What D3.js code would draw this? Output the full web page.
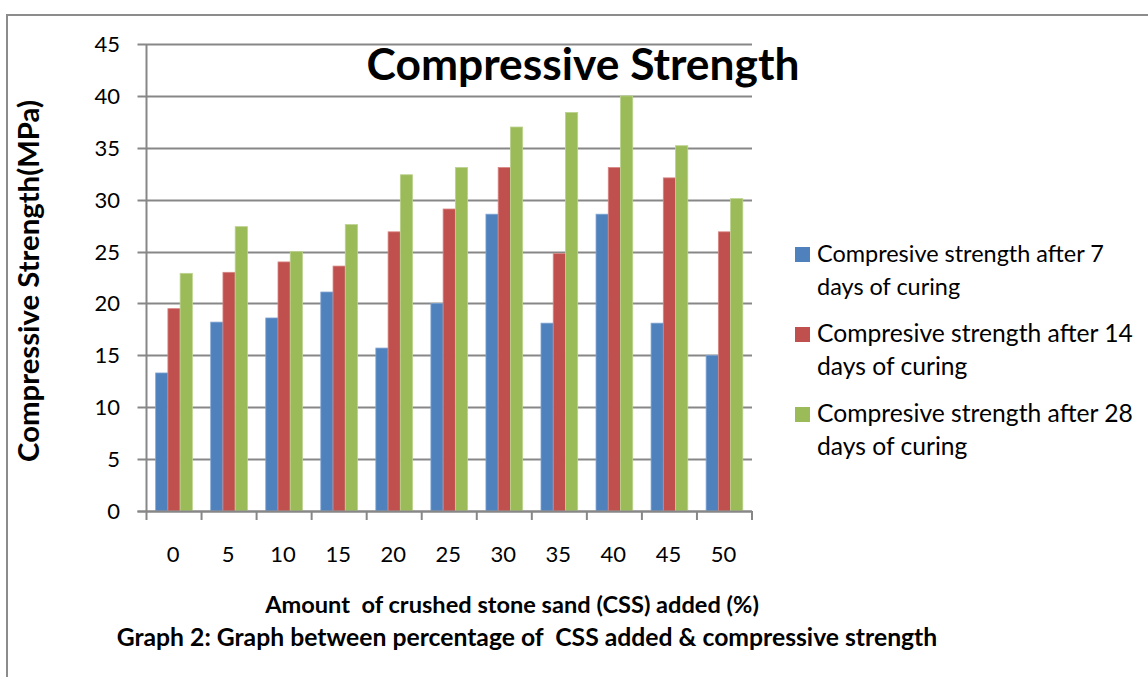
<!DOCTYPE html>
<html><head><meta charset="utf-8">
<script src="https://cdn.jsdelivr.net/npm/d3@7"></script>
<style>body{margin:0;background:#fff}svg{display:block}text{font-family:Lato,"Open Sans",sans-serif}</style>
</head><body>
<script>
const categories = ["0","5","10","15","20","25","30","35","40","45","50"];
const seriesNames = ["Compresive strength after 7 days of curing","Compresive strength after 14 days of curing","Compresive strength after 28 days of curing"];
const legendLines = [["Compresive strength after 7","days of curing"],["Compresive strength after 14","days of curing"],["Compresive strength after 28","days of curing"]];
const day7  = [13.3,18.2,18.6,21.1,15.7,20.0,28.6,18.1,28.6,18.1,15.0];
const day14 = [19.5,23.0,24.0,23.6,26.9,29.1,33.1,24.8,33.1,32.1,26.9];
const day28 = [22.9,27.4,25.0,27.6,32.4,33.1,37.0,38.4,40.0,35.2,30.1];
const yTicks = [0,5,10,15,20,25,30,35,40,45];
const colors = ["#4F81BD","#C0504D","#9BBB59"];
const strokes = ["#7fa3d1","#d78583","#bcd38e"];

const W=1148,H=677;
const svg=d3.select("body").append("svg").attr("width",W).attr("height",H);
svg.append("path").attr("d","M7,677 V15 H1148").attr("fill","none").attr("stroke","#8c8c8c").attr("stroke-width",2);

const L=146.5,R=752,T=44,B=511;
const x=d3.scaleBand().domain(categories).range([L,R]).paddingInner(0).paddingOuter(0);
const y=d3.scaleLinear().domain([0,45]).range([B,T]);
const x1=d3.scaleBand().domain([0,1,2]).range([0,x.bandwidth()]).paddingInner(0).paddingOuter(0.75);

function fit(sel,w){const n=sel.node();const cur=n.getComputedTextLength();const fs=parseFloat(sel.attr("font-size"));const f=fs*w/cur;sel.attr("font-size",f);return f;}

const gy=svg.append("g");
gy.selectAll("line").data(yTicks).join("line")
  .attr("x1",L-9).attr("x2",R).attr("y1",d=>Math.round(y(d))+0.5).attr("y2",d=>Math.round(y(d))+0.5)
  .attr("stroke","#878787").attr("stroke-width",2);
gy.selectAll("text").data(yTicks).join("text")
  .attr("x",120).attr("y",d=>y(d)+8).attr("text-anchor","end").attr("font-size",22).attr("fill","#000").text(d=>d);

const data=[day7,day14,day28];
const groups=svg.append("g").selectAll("g").data(categories).join("g").attr("transform",d=>`translate(${x(d)},0)`);
groups.selectAll("rect").data((c,i)=>data.map((s,k)=>({k,v:s[i]}))).join("rect")
  .attr("x",d=>x1(d.k)).attr("width",x1.bandwidth())
  .attr("y",d=>y(d.v)).attr("height",d=>B-y(d.v))
  .attr("fill",d=>colors[d.k]).attr("stroke",d=>strokes[d.k]).attr("stroke-width",0.8);

svg.append("line").attr("x1",L).attr("x2",L).attr("y1",T).attr("y2",B+1).attr("stroke","#878787").attr("stroke-width",2);
svg.append("line").attr("x1",L-9).attr("x2",R).attr("y1",B+0.5).attr("y2",B+0.5).attr("stroke","#878787").attr("stroke-width",2);
const xt=categories.map(c=>x(c)).concat([R]);
svg.selectAll(".xt").data(xt).join("line").attr("class","xt")
  .attr("x1",d=>d).attr("x2",d=>d).attr("y1",B).attr("y2",B+9).attr("stroke","#878787").attr("stroke-width",2);
svg.selectAll(".xl").data(categories).join("text").attr("class","xl")
  .attr("x",d=>x(d)+x.bandwidth()/2-1).attr("y",562).attr("text-anchor","middle").attr("font-size",22).attr("fill","#000").text(d=>d);

const t=svg.append("text").attr("x",583).attr("y",80).attr("text-anchor","middle").attr("font-size",40).attr("font-weight","bold").attr("fill","#000").text("Compressive Strength");
fit(t,433);
const yt=svg.append("text").attr("transform","translate(39,281) rotate(-90)").attr("text-anchor","middle").attr("font-size",19).attr("font-weight","bold").attr("fill","#000").text("Compressive Strength(MPa)");
fit(yt,362);
const xtt=svg.append("text").attr("x",512).attr("y",613).attr("text-anchor","middle").attr("font-size",19).attr("font-weight","bold").attr("fill","#000").style("white-space","pre").text("Amount  of crushed stone sand (CSS) added (%)");
fit(xtt,494);
const cap=svg.append("text").attr("x",527).attr("y",646).attr("text-anchor","middle").attr("font-size",19).attr("font-weight","bold").attr("fill","#000").style("white-space","pre").text("Graph 2: Graph between percentage of  CSS added & compressive strength");
fit(cap,821);

const lg=svg.append("g").selectAll("g").data(seriesNames).join("g").attr("transform",(d,i)=>`translate(795,${247+i*80})`);
lg.append("rect").attr("width",15).attr("height",15).attr("fill",(d,i)=>colors[i]);
lg.each(function(d,i){
  const g=d3.select(this);
  const t1=g.append("text").attr("x",22).attr("y",15).attr("font-size",22).attr("fill","#000").text(legendLines[i][0]);
  const fs=fit(t1, i===0?287:316);
  g.append("text").attr("x",22).attr("y",48).attr("font-size",fs).attr("fill","#000").text(legendLines[i][1]);
});
</script>
</body></html>
